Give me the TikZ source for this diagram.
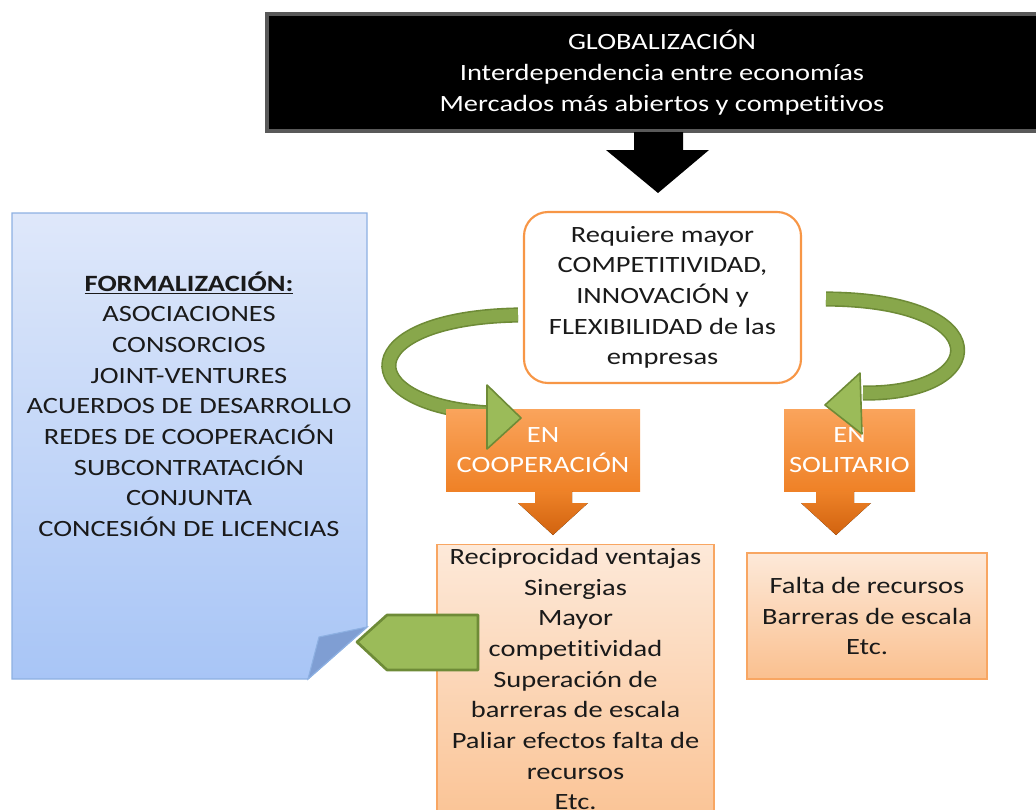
\documentclass[tikz,border=0pt]{standalone}
\usepackage{fontspec}
\setmainfont{Carlito}[FakeStretch=1.22, Ligatures=NoCommon]
\usetikzlibrary{positioning}

\definecolor{naranja}{HTML}{F79646}
\definecolor{naranjaclaro}{HTML}{FAA45C}
\definecolor{naranjaosc}{HTML}{EF8126}
\definecolor{flechanar}{HTML}{EE8228}
\definecolor{flechanarosc}{HTML}{D1630F}
\definecolor{melocoton}{HTML}{FDE9D9}
\definecolor{melocotonosc}{HTML}{FAC08F}
\definecolor{azulclaro}{HTML}{DFE8FA}
\definecolor{azul}{HTML}{A8C5F6}
\definecolor{azulborde}{HTML}{8DB0E2}
\definecolor{azulpliegue}{HTML}{7F9ED3}
\definecolor{verde}{HTML}{9BBB59}
\definecolor{verdemed}{HTML}{88A74B}
\definecolor{verdeosc}{HTML}{6E8B37}
\definecolor{letranegra}{HTML}{1A1A1A}

\newcommand{\px}{0.75pt}

\tikzset{
  letra/.style={font=\fontsize{17.5}{23}\selectfont, align=center, inner sep=0pt, text=letranegra},
  cabecera/.style={letra, fill=black, draw=black!65, line width=2.5pt, text=white},
  caja/.style={letra, fill=white, draw=naranja, line width=1.6pt, rounded corners=18pt},
  etiqueta/.style={letra, top color=naranjaclaro, bottom color=naranjaosc, text=white},
  resultado/.style={letra, top color=melocoton, bottom color=melocotonosc, draw=naranja!85, line width=0.9pt},
  banda/.style={verdeosc, line width=1.2pt, double=verdemed, double distance=9pt},
  punta/.style={fill=verde, draw=verdeosc, line width=1.2pt, line join=round},
  flechanaranja/.style={top color=flechanar, bottom color=flechanarosc, draw=none}
}

\begin{document}
\begin{tikzpicture}[x=\px, y=-\px]
\useasboundingbox (0,0) rectangle (1036,810);
\clip (0,0) rectangle (1036,810);

% hoja azul
\draw[top color=azulclaro, bottom color=azul, draw=azulborde, line width=1pt]
  (12,213) -- (367,213) -- (367,627) -- (308,679) -- (12,679) -- cycle;
\filldraw[fill=azulpliegue, draw=azulborde, line width=0.8pt] (367,627) -- (319,637) -- (308,679) -- cycle;
\node[letra] (formal) at (189,404) {\underline{\textbf{FORMALIZACIÓN:}}\\ASOCIACIONES\\CONSORCIOS\\JOINT-VENTURES\\ACUERDOS DE DESARROLLO\\REDES DE COOPERACIÓN\\SUBCONTRATACIÓN\\CONJUNTA\\CONCESIÓN DE LICENCIAS};

% cabecera
\node[cabecera, minimum width=790*\px, minimum height=117*\px] (glob) at (662,72.5)
  {GLOBALIZACIÓN\\Interdependencia entre economías\\Mercados más abiertos y competitivos};
\fill[black] (634,132) -- (683,132) -- (683,150) -- (709,150) -- (658,193) -- (606,150) -- (634,150) -- cycle;

% flechas curvas
\draw[banda] (518,315) .. controls (352,318) and (350,405) .. (489,413);
\draw[banda] (826,299) .. controls (1000,300) and (990,395) .. (863,393);

\node[caja, minimum width=277*\px, minimum height=171*\px] (req) at (662.5,297.5)
  {Requiere mayor\\COMPETITIVIDAD,\\INNOVACIÓN y\\FLEXIBILIDAD de las\\empresas};

\node[etiqueta, minimum width=194*\px, minimum height=82*\px] (coop) at (543,450) {EN\\COOPERACIÓN};
\node[etiqueta, minimum width=131*\px, minimum height=82*\px] (solo) at (849.5,450) {EN\\SOLITARIO};

\filldraw[punta] (487,385) -- (521,418) -- (487,449) -- cycle;
\filldraw[punta] (860,373) -- (825,405) -- (862,434) -- cycle;

% flechas naranjas
\fill[flechanaranja] (535,491) -- (572,491) -- (572,503) -- (588,503) -- (553,535) -- (518,503) -- (535,503) -- cycle;
\fill[flechanaranja] (816,491) -- (854,491) -- (854,503) -- (871,503) -- (836,535) -- (801,503) -- (816,503) -- cycle;

% resultados
\node[resultado, minimum width=277*\px, minimum height=300*\px, anchor=north] (coopbox) at (575.5,544) {};
\node[letra] (ventajas) at (575.5,679) {Reciprocidad ventajas\\Sinergias\\Mayor\\competitividad\\Superación de\\barreras de escala\\Paliar efectos falta de\\recursos\\Etc.};
\node[resultado, minimum width=240*\px, minimum height=126*\px] (solbox) at (867,616) {Falta de recursos\\Barreras de escala\\Etc.};

% flecha verde hacia la hoja
\filldraw[fill=verde, draw=verdeosc, line width=2pt, line join=round]
  (478,615) -- (387,615) -- (357,642) -- (387,670) -- (478,670) -- cycle;
\end{tikzpicture}
\end{document}
